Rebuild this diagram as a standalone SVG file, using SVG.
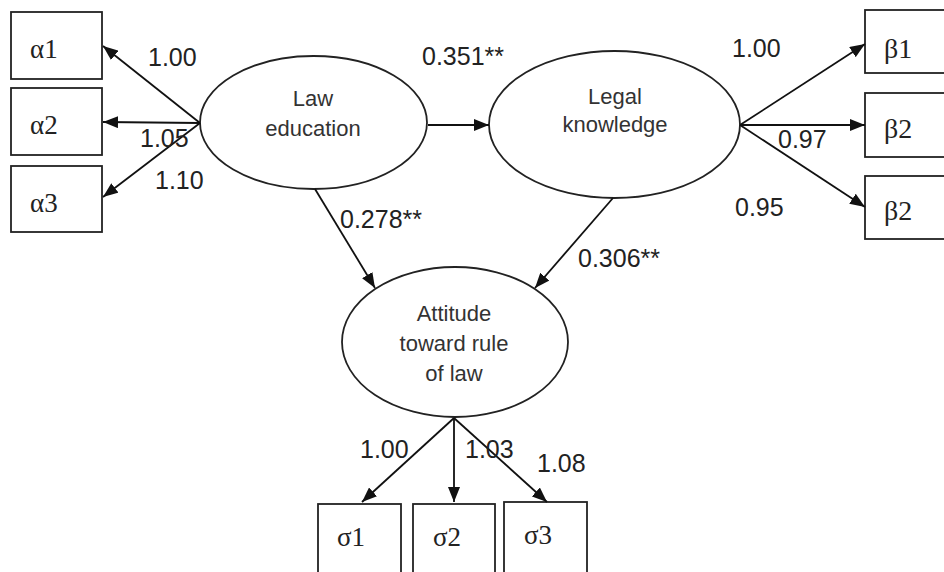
<svg xmlns="http://www.w3.org/2000/svg" width="944" height="572" viewBox="0 0 944 572">
<defs>
<marker id="arr" markerUnits="userSpaceOnUse" markerWidth="16" markerHeight="12" refX="15" refY="6" orient="auto">
<path d="M0,0 L15,6 L0,12 z" fill="#111"/>
</marker>
<style>
.box{fill:#fff;stroke:#222;stroke-width:1.8}
.ell{fill:#fff;stroke:#222;stroke-width:1.8}
.edge{stroke:#111;stroke-width:1.8;fill:none;marker-end:url(#arr)}
.lbl{font-family:"Liberation Sans",Arial,sans-serif;font-size:25px;fill:#222}
.ltx{font-family:"Liberation Sans",Arial,sans-serif;font-size:22px;fill:#333;text-anchor:middle}
.mtx{font-family:"Liberation Serif","Times New Roman",serif;font-size:27px;fill:#222}
.btx{font-family:"Liberation Serif","Times New Roman",serif;font-size:28px;fill:#222}
</style>
</defs>
<rect width="944" height="572" fill="#fff"/>

<g id="alpha1"><rect class="box" x="11" y="12" width="91" height="67"/><text class="mtx" x="30" y="58">α1</text></g>
<g id="alpha2"><rect class="box" x="11" y="88" width="91" height="67"/><text class="mtx" x="30" y="134">α2</text></g>
<g id="alpha3"><rect class="box" x="11" y="166" width="91" height="66"/><text class="mtx" x="30" y="212">α3</text></g>

<g id="beta1"><rect class="box" x="865" y="10" width="82" height="63"/><text class="btx" x="884" y="58">β1</text></g>
<g id="beta2"><rect class="box" x="865" y="93" width="82" height="64"/><text class="btx" x="884" y="138">β2</text></g>
<g id="beta3"><rect class="box" x="865" y="176" width="82" height="63"/><text class="btx" x="884" y="220">β2</text></g>

<g id="sigma1"><rect class="box" x="318" y="504" width="83" height="80"/><text class="mtx" x="337" y="546">σ1</text></g>
<g id="sigma2"><rect class="box" x="413" y="504" width="82" height="80"/><text class="mtx" x="433" y="546">σ2</text></g>
<g id="sigma3"><rect class="box" x="504" y="502" width="83" height="82"/><text class="mtx" x="524" y="544">σ3</text></g>

<g id="law_education"><ellipse class="ell" cx="313.5" cy="122.5" rx="113.5" ry="66.5"/><text class="ltx" x="313" y="106">Law</text><text class="ltx" x="313" y="136">education</text></g>
<g id="legal_knowledge"><ellipse class="ell" cx="614.5" cy="124.5" rx="125.5" ry="73.5"/><text class="ltx" x="615" y="104">Legal</text><text class="ltx" x="615" y="132">knowledge</text></g>
<g id="attitude"><ellipse class="ell" cx="455" cy="342" rx="113" ry="75"/><text class="ltx" x="454" y="321">Attitude</text><text class="ltx" x="454" y="351">toward rule</text><text class="ltx" x="454" y="381">of law</text></g>

<g id="connectors">
<line class="edge" x1="200" y1="123" x2="103" y2="46"/>
<line class="edge" x1="200" y1="123" x2="103" y2="122"/>
<line class="edge" x1="200" y1="123" x2="103" y2="197"/>
<line class="edge" x1="428" y1="125" x2="489" y2="125"/>
<line class="edge" x1="740" y1="125" x2="865" y2="44"/>
<line class="edge" x1="740" y1="125" x2="865" y2="125"/>
<line class="edge" x1="740" y1="125" x2="865" y2="207"/>
<line class="edge" x1="315" y1="189" x2="375" y2="288"/>
<line class="edge" x1="613" y1="198" x2="535" y2="288"/>
<line class="edge" x1="454" y1="418" x2="362" y2="502"/>
<line class="edge" x1="454" y1="418" x2="454" y2="502"/>
<line class="edge" x1="454" y1="418" x2="547" y2="502"/>
</g>

<g id="labels">
<text class="lbl" x="148" y="66">1.00</text>
<text class="lbl" x="140" y="147">1.05</text>
<text class="lbl" x="155" y="189">1.10</text>
<text class="lbl" x="422" y="65">0.351**</text>
<text class="lbl" x="340" y="228">0.278**</text>
<text class="lbl" x="578" y="267">0.306**</text>
<text class="lbl" x="732" y="57">1.00</text>
<text class="lbl" x="778" y="148">0.97</text>
<text class="lbl" x="735" y="216">0.95</text>
<text class="lbl" x="360" y="458">1.00</text>
<text class="lbl" x="465" y="458">1.03</text>
<text class="lbl" x="537" y="472">1.08</text>
</g>
</svg>
